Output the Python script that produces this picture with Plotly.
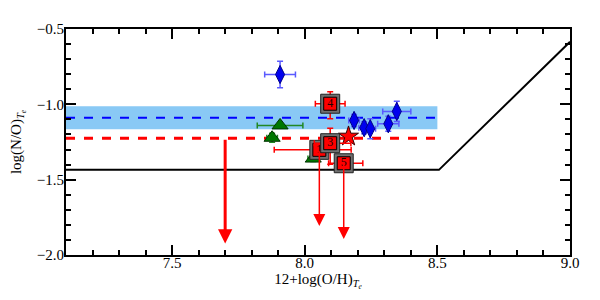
import plotly.graph_objects as go

# ---- data ----
diam_x = [7.907, 8.186, 8.224, 8.247, 8.315, 8.347]
diam_y = [-0.802, -1.107, -1.155, -1.162, -1.129, -1.047]
diam_xerr = [0.058, 0.02, 0.02, 0.02, 0.04, 0.053]
diam_yerr = [0.088, 0.04, 0.04, 0.067, 0.05, 0.067]

tri_x = [7.907, 7.877, 8.032]
tri_y = [-1.14, -1.222, -1.36]
tri_xerr = [0.086, 0.02, 0.02]
tri_yerr = [0.01, 0.03, 0.02]

star_x = [8.165]
star_y = [-1.213]

sq_labels = ["1", "3", "4", "5"]
sq_x = [8.055, 8.096, 8.096, 8.147]
sq_y = [-1.302, -1.258, -0.996, -1.391]
sq_xerr_plus = [0.12, 0.078, 0.056, 0.072]
sq_xerr_minus = [0.17, 0.06, 0.056, 0.057]
sq_yerr_plus = [0.03, 0.1, 0.08, 0.03]
sq_yerr_minus = [0.03, 0.14, 0.1, 0.03]

# upper-limit arrows for squares 1 and 5
lim_x = [8.055, 8.147]
lim_from = [-1.302, -1.391]
lim_to = [-1.807, -1.893]

# big arrow
arrow_x = 7.70
arrow_from = -1.225
arrow_to = -1.924

# reference lines
floor_x = [7.1, 8.506, 9.0]
floor_y = [-1.435, -1.435, -0.585]
band_x = [7.1, 8.5]
band_lo, band_hi = -1.165, -1.013
blue_level = -1.089
red_level = -1.225

FONT = "Liberation Serif"

fig = go.Figure()

# band
fig.add_shape(type="rect", xref="x", yref="y", x0=band_x[0], x1=band_x[1],
              y0=band_lo, y1=band_hi, fillcolor="#89c9f5", line=dict(width=0), layer="below")
fig.add_trace(go.Scatter(x=band_x, y=[blue_level] * 2, mode="lines",
                         line=dict(color="#0000ff", width=2, dash="dash"), hoverinfo="skip"))
fig.add_trace(go.Scatter(x=band_x, y=[red_level] * 2, mode="lines",
                         line=dict(color="#ff0000", width=3, dash="dash"), hoverinfo="skip"))
fig.add_trace(go.Scatter(x=floor_x, y=floor_y, mode="lines",
                         line=dict(color="black", width=2), hoverinfo="skip"))

# big arrow
fig.add_annotation(x=arrow_x, y=arrow_to, ax=arrow_x, ay=arrow_from, xref="x", yref="y",
                   axref="x", ayref="y", showarrow=True, arrowhead=2, arrowsize=0.95,
                   arrowwidth=3, arrowcolor="#ff0000", text="")

# diamonds
fig.add_trace(go.Scatter(
    x=diam_x, y=diam_y, mode="markers",
    marker=dict(symbol="diamond-tall", size=13, color="#0000ee", line=dict(color="#000088", width=1)),
    error_x=dict(type="data", array=diam_xerr, color="#5a5aff", thickness=1.5, width=3),
    error_y=dict(type="data", array=diam_yerr, color="#5a5aff", thickness=1.5, width=3)))

# triangles
fig.add_trace(go.Scatter(
    x=tri_x, y=tri_y, mode="markers",
    marker=dict(symbol="triangle-up", size=14, color="#007700", line=dict(color="#003300", width=1)),
    error_x=dict(type="data", array=tri_xerr, color="#228822", thickness=1.5, width=3),
    error_y=dict(type="data", array=tri_yerr, color="#228822", thickness=1.5, width=3)))

# star
fig.add_trace(go.Scatter(
    x=star_x, y=star_y, mode="markers",
    marker=dict(symbol="star", size=15, color="#ff0000", line=dict(color="#330000", width=1))))

# upper-limit arrows
for lx, lf, lt in zip(lim_x, lim_from, lim_to):
    fig.add_annotation(x=lx, y=lt, ax=lx, ay=lf, xref="x", yref="y", axref="x", ayref="y",
                       showarrow=True, arrowhead=2, arrowsize=1.6, arrowwidth=1.5,
                       arrowcolor="#ff0000", text="")

# squares (outer gray frame, then red)
for i in range(len(sq_x)):
    fig.add_trace(go.Scatter(
        x=[sq_x[i]], y=[sq_y[i]], mode="markers",
        marker=dict(symbol="square", size=19, color="#707070", line=dict(color="#222222", width=1)),
        error_x=dict(type="data", symmetric=False, array=[sq_xerr_plus[i]], arrayminus=[sq_xerr_minus[i]],
                     color="#ff0000", thickness=1.5, width=3),
        error_y=dict(type="data", symmetric=False, array=[sq_yerr_plus[i]], arrayminus=[sq_yerr_minus[i]],
                     color="#ff0000", thickness=1.5, width=3)))
    fig.add_trace(go.Scatter(
        x=[sq_x[i]], y=[sq_y[i]], mode="markers+text", text=[sq_labels[i]],
        textposition="middle center", textfont=dict(family=FONT, size=12, color="#220000"),
        marker=dict(symbol="square", size=13, color="#ff0000", line=dict(color="black", width=1))))

axis_common = dict(showline=True, linecolor="black", linewidth=2, mirror="allticks",
                   ticks="inside", ticklen=10, tickwidth=2, tickcolor="black",
                   showgrid=False, zeroline=False, automargin=False, tickmode="linear", dtick=0.5,
                   tickfont=dict(family=FONT, size=15, color="black"),
                   minor=dict(ticks="inside", ticklen=5, tickwidth=1.5, tickcolor="black", dtick=0.1,
                              showgrid=False))

fig.update_xaxes(range=[7.1, 9.0], tick0=7.5, tickformat=".1f", ticklabelstandoff=-7,
                 title=dict(text="12+log(O/H)<sub><i>T<sub>e</sub></i></sub>",
                            font=dict(family=FONT, size=15, color="black"), standoff=2),
                 **axis_common)
fig.update_yaxes(range=[-2.0, -0.5], tick0=-2.0, tickformat=".1f", ticklabelstandoff=-3,
                 title=dict(text="log(N/O)<sub><i>T<sub>e</sub></i></sub>",
                            font=dict(family=FONT, size=15, color="black"), standoff=19),
                 **axis_common)

# page body has an 8px margin: size the figure so it fits the 600x300 window
fig.update_layout(width=592, height=292, margin=dict(l=58, r=30, t=21, b=45),
                  plot_bgcolor="white", paper_bgcolor="white", showlegend=False)

fig.write_html("out.html")
